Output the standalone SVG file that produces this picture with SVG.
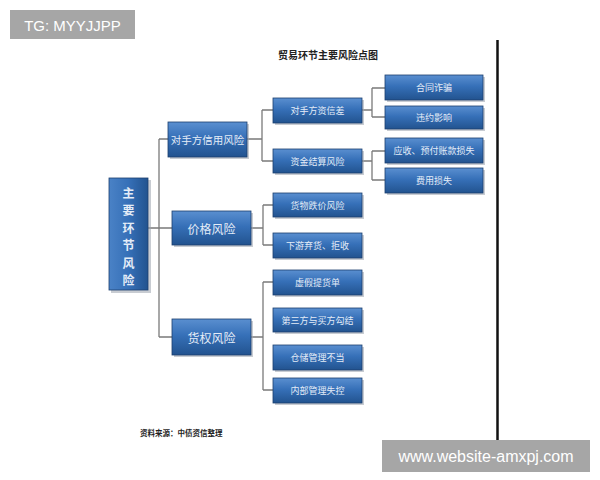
<svg xmlns="http://www.w3.org/2000/svg" width="600" height="480" viewBox="0 0 600 480">
<defs>
<linearGradient id="g" x1="0" y1="0" x2="0" y2="1">
<stop offset="0" stop-color="#5a8fd0"/>
<stop offset="0.45" stop-color="#3670b8"/>
<stop offset="1" stop-color="#22538f"/>
</linearGradient>
<linearGradient id="gv" x1="0" y1="0" x2="1" y2="0">
<stop offset="0" stop-color="#4a82c6"/>
<stop offset="0.5" stop-color="#3670b8"/>
<stop offset="1" stop-color="#22538f"/>
</linearGradient>
<style>
.box{fill:url(#g);stroke:#1c3f6e;stroke-width:0.8}
.sh{fill:#9aa3ad;opacity:0.55}
.t{font-family:"Noto Sans CJK SC","Noto Sans",sans-serif;fill:#e4ecf7;text-anchor:middle;dominant-baseline:central}
.l1{font-size:12px}
.l2{font-size:9px}
.c{fill:none;stroke:#7a7a7a;stroke-width:1.3}
.wm{fill:#a6a6a6}
.wt{font-family:"Liberation Sans",Arial,sans-serif;fill:#ffffff}
</style>
</defs>
<rect width="600" height="480" fill="#ffffff"/>
<text x="328" y="54" font-family="'Noto Sans CJK SC',sans-serif" font-size="10" font-weight="bold" fill="#222" text-anchor="middle" dominant-baseline="central">贸易环节主要风险点图</text>
<line x1="497.5" y1="40" x2="497.5" y2="445" stroke="#111" stroke-width="2.5"/>
<g id="connectors">
<path class="c" d="M148 228 H172 M159 139 V337 M159 139 H168 M159 337 H172"/>
<path class="c" d="M247 139 H262 M262 110 V161 M262 110 H273 M262 161 H273"/>
<path class="c" d="M362 110 H372 M372 88 V117 M372 88 H385 M372 117 H385"/>
<path class="c" d="M362 161 H372 M372 151 V180 M372 151 H385 M372 180 H385"/>
<path class="c" d="M251 228 H263 M263 205 V245 M263 205 H273 M263 245 H273"/>
<path class="c" d="M251 337 H263 M263 282 V390 M263 282 H273 M263 390 H273"/>
</g>
<g id="root">
<rect class="sh" x="111" y="180" width="40" height="113"/>
<rect x="109" y="178" width="39" height="112" fill="url(#gv)" stroke="#1c3f6e" stroke-width="0.8"/>
<g class="t" font-size="12" font-weight="bold">
<text x="128.5" y="192">主</text>
<text x="128.5" y="209.5">要</text>
<text x="128.5" y="227">环</text>
<text x="128.5" y="244.5">节</text>
<text x="128.5" y="262">风</text>
<text x="128.5" y="279.5">险</text>
</g>
</g>
<g id="n1">
<rect class="sh" x="170" y="124" width="79" height="35"/>
<rect class="box" x="168" y="122" width="79" height="35"/>
<text class="t" font-size="10.5" x="207.5" y="139.5">对手方信用风险</text>
</g>
<g id="n2">
<rect class="sh" x="174" y="213" width="79" height="34"/>
<rect class="box" x="172" y="211" width="79" height="34"/>
<text class="t l1" x="211.5" y="228">价格风险</text>
</g>
<g id="n3">
<rect class="sh" x="174" y="321" width="79" height="36"/>
<rect class="box" x="172" y="319" width="79" height="36"/>
<text class="t l1" x="211.5" y="337">货权风险</text>
</g>
<g id="n11">
<rect class="sh" x="275" y="100" width="89" height="25"/>
<rect class="box" x="273" y="98" width="89" height="25"/>
<text class="t l2" x="317.5" y="110.5">对手方资信差</text>
</g>
<g id="n12">
<rect class="sh" x="275" y="151" width="89" height="24"/>
<rect class="box" x="273" y="149" width="89" height="24"/>
<text class="t l2" x="317.5" y="161">资金结算风险</text>
</g>
<g id="n111">
<rect class="sh" x="387" y="77" width="98" height="25"/>
<rect class="box" x="385" y="75" width="98" height="25"/>
<text class="t l2" x="434" y="87.5">合同诈骗</text>
</g>
<g id="n112">
<rect class="sh" x="387" y="108" width="98" height="23"/>
<rect class="box" x="385" y="106" width="98" height="23"/>
<text class="t l2" x="434" y="117.5">违约影响</text>
</g>
<g id="n121">
<rect class="sh" x="387" y="140" width="98" height="25"/>
<rect class="box" x="385" y="138" width="98" height="25"/>
<text class="t l2" x="434" y="150.5">应收、预付账款损失</text>
</g>
<g id="n122">
<rect class="sh" x="387" y="170" width="98" height="25"/>
<rect class="box" x="385" y="168" width="98" height="25"/>
<text class="t l2" x="434" y="180.5">费用损失</text>
</g>
<g id="n21">
<rect class="sh" x="275" y="195" width="89" height="24"/>
<rect class="box" x="273" y="193" width="89" height="24"/>
<text class="t l2" x="317.5" y="205">货物跌价风险</text>
</g>
<g id="n22">
<rect class="sh" x="275" y="235" width="89" height="25"/>
<rect class="box" x="273" y="233" width="89" height="25"/>
<text class="t l2" x="317.5" y="245.5">下游弃货、拒收</text>
</g>
<g id="n31">
<rect class="sh" x="275" y="272" width="89" height="25"/>
<rect class="box" x="273" y="270" width="89" height="25"/>
<text class="t l2" x="317.5" y="282.5">虚假提货单</text>
</g>
<g id="n32">
<rect class="sh" x="275" y="310" width="89" height="24"/>
<rect class="box" x="273" y="308" width="89" height="24"/>
<text class="t l2" x="317.5" y="320">第三方与买方勾结</text>
</g>
<g id="n33">
<rect class="sh" x="275" y="347" width="89" height="25"/>
<rect class="box" x="273" y="345" width="89" height="25"/>
<text class="t l2" x="317.5" y="357.5">仓储管理不当</text>
</g>
<g id="n34">
<rect class="sh" x="275" y="380" width="89" height="25"/>
<rect class="box" x="273" y="378" width="89" height="25"/>
<text class="t l2" x="317.5" y="390.5">内部管理失控</text>
</g>
<text x="140" y="432" font-family="'Noto Sans CJK SC',sans-serif" font-size="7.5" font-weight="bold" fill="#222" dominant-baseline="central">资料来源：中债资信整理</text>
<rect class="wm" x="10" y="10" width="125" height="29"/>
<text class="wt" x="72.5" y="25" font-size="15" text-anchor="middle" dominant-baseline="central">TG: MYYJJPP</text>
<rect class="wm" x="382" y="440" width="208" height="32"/>
<text class="wt" x="486" y="456" font-size="16" text-anchor="middle" dominant-baseline="central">www.website-amxpj.com</text>
</svg>
